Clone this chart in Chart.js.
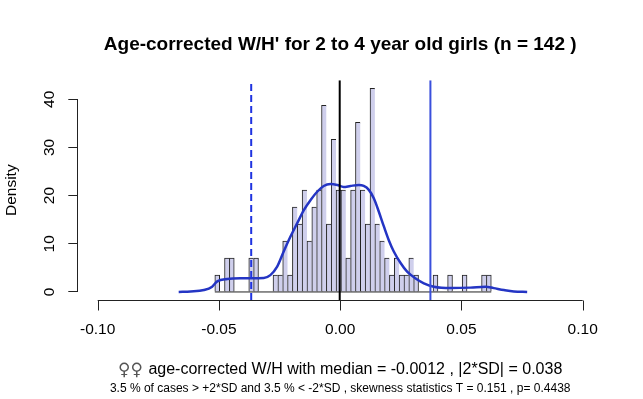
<!DOCTYPE html>
<html>
<head>
<meta charset="utf-8">
<script src="https://cdn.jsdelivr.net/npm/chart.js@4.4.1/dist/chart.umd.min.js"></script>
<style>
html,body{margin:0;padding:0;background:#fff;}
#wrap{width:643px;height:399px;position:relative;}
</style>
</head>
<body>
<div id="wrap"><canvas id="c" width="643" height="399"></canvas></div>
<script>
// ---- data ----
const binStart = -0.0517;
const binWidth = 0.002;
const binDensity = [
  3.52, 0, 7.04, 7.04, 0, 0, 0, 7.04, 7.04, 0,
  0, 0, 3.52, 3.52, 10.56, 3.52, 17.61, 14.08, 21.13, 10.56,
  17.61, 21.13, 38.73, 14.08, 31.69, 21.13, 21.13, 7.04, 21.13, 35.21,
  21.13, 14.08, 42.25, 14.08, 10.56, 7.04, 3.52, 7.04, 3.52, 3.52,
  7.04, 3.52, 0, 0, 0, 3.52, 0, 0, 3.52, 0,
  0, 3.52, 0, 0, 0, 3.52, 3.52
];
const kdeX = [-0.0666,-0.0617,-0.0562,-0.0528,-0.0507,-0.0466,-0.0411,-0.0370,-0.0315,-0.0288,
  -0.0260,-0.0233,-0.0205,-0.0177,-0.0150,-0.0122,-0.0095,-0.0068,-0.0040,-0.0012,
  0.0014,0.0042,0.0077,0.0097,0.0118,0.0139,0.0159,0.0180,0.0200,0.0221,
  0.0249,0.0276,0.0311,0.0345,0.0386,0.0455,0.0537,0.0599,0.0633,0.0675,0.0716,0.0771];
const kdeY = [0.0,0.1,0.4,1.1,2.2,2.7,2.85,2.85,2.9,3.5,
  5.25,8.4,11.5,14.3,17.0,19.1,20.8,22.0,22.4,22.2,
  21.8,22.0,22.2,22.0,21.2,19.4,16.7,13.6,10.8,8.4,
  6.0,4.2,2.8,1.8,1.1,0.8,0.9,1.1,0.8,0.4,0.1,0.0];
const xTicks = [-0.10, -0.05, 0.00, 0.05, 0.10];
const xTickLabels = ['-0.10', '-0.05', '0.00', '0.05', '0.10'];
const yTicks = [0, 10, 20, 30, 40];
const yTickLabels = ['0', '10', '20', '30', '40'];
const lowerSD = -0.0367;
const centerLine = -0.0002;
const upperSD = 0.0372;
const titleText = "Age-corrected W/H' for 2 to 4 year old girls (n = 142 )";
const subSymbol = "\u2640\u2640";
const subLine1 = "age-corrected W/H with median = -0.0012 , |2*SD| = 0.038";
const subLine2 = "3.5 % of cases > +2*SD and 3.5 % < -2*SD , skewness statistics T = 0.151 , p= 0.4438";
const yLabel = 'Density';

// ---- layout ----
const W = 643, H = 399;
const PLOT = {left: 78.3, right: 602.1, top: 80.3, bottom: 300.1};
const xMin = -0.108, xMax = 0.108, yMin = -1.69, yMax = 43.94;
const TICK_LEN = 10;
const FONT = '"Liberation Sans", Arial, Helvetica, sans-serif';

const barData = binDensity.map((d, k) => ({x: binStart + binWidth * (k + 0.5), y: d}));
const nBins = binDensity.length;
const kdeData = kdeX.map((x, i) => ({x: x, y: kdeY[i]}));
const vline = v => [{x: v, y: yMin}, {x: v, y: yMax}];

const decor = {
  id: 'decor',
  afterDraw(chart) {
    const {ctx, scales: {x, y}, chartArea} = chart;
    ctx.save();
    ctx.strokeStyle = '#222';
    ctx.lineWidth = 1;
    ctx.beginPath();
    // x axis line + tick marks (R style: from first to last tick)
    const yb = Math.round(chartArea.bottom) + 0.5;
    ctx.moveTo(x.getPixelForValue(xTicks[0]), yb);
    ctx.lineTo(x.getPixelForValue(xTicks[xTicks.length - 1]), yb);
    x.ticks.forEach(t => {
      const px = Math.round(x.getPixelForValue(t.value)) + 0.5;
      ctx.moveTo(px, yb);
      ctx.lineTo(px, yb + TICK_LEN);
    });
    // y axis line
    const xl = Math.round(chartArea.left) - 0.5;
    ctx.moveTo(xl, y.getPixelForValue(yTicks[0]));
    ctx.lineTo(xl, y.getPixelForValue(yTicks[yTicks.length - 1]));
    ctx.stroke();
    // texts
    const cx = (chartArea.left + chartArea.right) / 2;
    ctx.fillStyle = '#000';
    ctx.textBaseline = 'middle';
    ctx.textAlign = 'center';
    ctx.font = 'bold 19px ' + FONT;
    ctx.fillText(titleText, cx, 45);
    const symFont = '17px "DejaVu Sans", ' + FONT;
    const txtFont = '16px ' + FONT;
    ctx.font = symFont;
    const wSym = ctx.measureText(subSymbol + ' ').width;
    ctx.font = txtFont;
    const wTxt = ctx.measureText(subLine1).width;
    const x0 = cx - (wSym + wTxt) / 2;
    ctx.textAlign = 'left';
    ctx.fillStyle = '#555';
    ctx.font = symFont;
    ctx.fillText(subSymbol, x0, 371);
    ctx.fillStyle = '#000';
    ctx.font = txtFont;
    ctx.fillText(subLine1, x0 + wSym, 370);
    ctx.textAlign = 'center';
    ctx.font = '12px ' + FONT;
    ctx.fillText(subLine2, cx, 389);
    ctx.restore();
  }
};

new Chart(document.getElementById('c'), {
  type: 'bar',
  data: {
    datasets: [
      {type: 'line', data: vline(upperSD), borderColor: '#3a4fdc', borderWidth: 2, pointRadius: 0, order: 1},
      {type: 'line', data: vline(lowerSD), borderColor: '#1f33e0', borderWidth: 2, borderDash: [7, 4], pointRadius: 0, order: 2},
      {type: 'line', data: vline(centerLine), borderColor: '#000', borderWidth: 2, pointRadius: 0, order: 3},
      {type: 'line', data: kdeData, borderColor: '#2435c4', borderWidth: 2.5, pointRadius: 0,
        cubicInterpolationMode: 'monotone', order: 4},
      {type: 'line', data: [{x: binStart, y: 0}, {x: binStart + nBins * binWidth, y: 0}],
        borderColor: '#222', borderWidth: 1, pointRadius: 0, order: 5},
      {type: 'bar', data: barData, backgroundColor: '#cfcfec', borderColor: '#222',
        borderSkipped: 'bottom', barPercentage: 1, categoryPercentage: 1, grouped: false, order: 6,
        borderWidth: c => {
          const k = c.dataIndex;
          const nx = binDensity[k + 1];
          return {top: 1, left: 1, bottom: 0, right: (nx === undefined || nx === 0) ? 1 : 0};
        }}
    ]
  },
  options: {
    responsive: false,
    animation: false,
    events: [],
    layout: {padding: {left: 0, top: PLOT.top, right: W - PLOT.right, bottom: 0}},
    plugins: {legend: {display: false}, tooltip: {enabled: false}, title: {display: false}},
    scales: {
      x: {
        type: 'linear', min: xMin, max: xMax, offset: false,
        afterBuildTicks: s => { s.ticks = xTicks.map(v => ({value: v})); },
        afterFit: s => { s.height = H - PLOT.bottom; },
        ticks: {callback: (v, i) => xTickLabels[i], color: '#000', padding: 12,
          maxRotation: 0, minRotation: 0, autoSkip: false,
          font: {family: FONT, size: 15.5}},
        grid: {display: false},
        border: {display: false}
      },
      y: {
        type: 'linear', min: yMin, max: yMax,
        afterBuildTicks: s => { s.ticks = yTicks.map(v => ({value: v})); },
        afterFit: s => { s.width = PLOT.left; },
        ticks: {callback: (v, i) => yTickLabels[i], color: '#000', padding: 10,
          minRotation: 90, maxRotation: 90, crossAlign: 'center', autoSkip: false,
          font: {family: FONT, size: 15.5}},
        grid: {offset: false, drawOnChartArea: false, drawTicks: true, tickLength: TICK_LEN, color: '#222', lineWidth: 1},
        border: {display: false},
        title: {display: true, text: yLabel, color: '#000', font: {family: FONT, size: 15.5},
          padding: {top: 2, bottom: 0}}
      }
    }
  },
  plugins: [decor]
});
</script>
</body>
</html>
